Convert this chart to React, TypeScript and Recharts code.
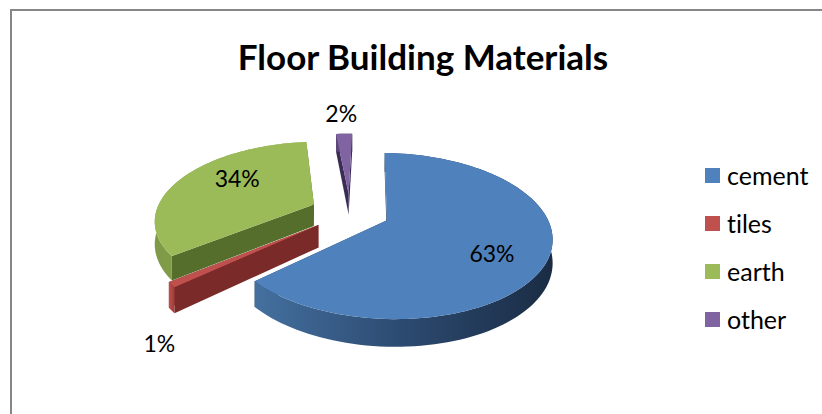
import { PieChart, Pie, Cell } from 'recharts';

const CATEGORIES = ['cement', 'tiles', 'earth', 'other'];
const VALUES = [63, 1, 34, 2];
const COLORS = ['#4f81bd', '#c0504d', '#9bbb59', '#8064a2'];
const FACE_COLORS = ['#2c4767', '#7a2a28', '#566e2b', '#3b2c56'];
const WALL_STOPS = [
  ['#44709f', '#2c4a70', '#1a2c44'],
  ['#c0504d', '#b04643', '#9c3d3a'],
  ['#7f9a47', '#8aa64e', '#9bbb59'],
  ['#5f4a7e', '#4b3a66', '#3b2c56'],
];

const data = CATEGORIES.map((name, i) => ({ name, value: VALUES[i] }));

// tilt and perspective of the fake 3d disc
const EXPLODE = 0.253;
const SQUASH = 77 / 158;
const PERSPECTIVE = 0.185;
const DEPTH = 22;
const FIRST_ANGLE = 88.5;
// where each percent label goes, radius factor + pixel nudge
const LABEL_RADIUS = [0.6, 1.25, 0.6, 1.25];
const LABEL_NUDGE = [[11, 11], [31, 41], [4, -10], [-2, -8]];

const FONT = 'Lato, sans-serif';

function project(u: number, v: number, cx: number, cy: number, r: number) {
  const s = 1 / (1 - PERSPECTIVE * v);
  return { x: cx + r * u * s, y: cy + r * SQUASH * v * s, s };
}

function pointsToPath(pts: { x: number; y: number }[]) {
  return pts.map((p, i) => `${i ? 'L' : 'M'}${p.x.toFixed(2)} ${p.y.toFixed(2)}`).join(' ') + ' Z';
}

function Slice3D(props: any) {
  const { cx, cy, outerRadius, startAngle, endAngle, name } = props;
  const idx = CATEGORIES.indexOf(name);
  const a0 = 90 - startAngle;
  const a1 = 90 - endAngle;
  const mid = (((a0 + a1) / 2) * Math.PI) / 180;
  const ou = Math.sin(mid) * EXPLODE;
  const ov = -Math.cos(mid) * EXPLODE;

  const arc: { x: number; y: number; s: number }[] = [];
  const steps = Math.max(4, Math.ceil(Math.abs(a1 - a0) / 2));
  for (let i = 0; i <= steps; i++) {
    const t = ((a0 + ((a1 - a0) * i) / steps) * Math.PI) / 180;
    arc.push(project(ou + Math.sin(t), ov - Math.cos(t), cx, cy, outerRadius));
  }
  const apex = project(ou, ov, cx, cy, outerRadius);
  const down = (p: { x: number; y: number; s: number }) => ({ x: p.x, y: p.y + DEPTH * p.s });

  const top = pointsToPath([apex, ...arc]);
  const startWall = pointsToPath([apex, arc[0], down(arc[0]), down(apex)]);
  const endWall = pointsToPath([apex, arc[steps], down(arc[steps]), down(apex)]);
  const outerWall = pointsToPath([...arc, ...arc.map(down).reverse()]);
  const gradId = `wall-${idx}`;

  return (
    <g>
      <defs>
        <linearGradient id={gradId} x1="0" y1="0" x2="1" y2="0">
          <stop offset="0%" stopColor={WALL_STOPS[idx][0]} />
          <stop offset="50%" stopColor={WALL_STOPS[idx][1]} />
          <stop offset="100%" stopColor={WALL_STOPS[idx][2]} />
        </linearGradient>
      </defs>
      <path d={endWall} fill={FACE_COLORS[idx]} />
      <path d={startWall} fill={FACE_COLORS[idx]} />
      <path d={outerWall} fill={`url(#${gradId})`} />
      <path d={top} fill={COLORS[idx]} />
    </g>
  );
}

function renderLabel(props: any) {
  const { cx, cy, outerRadius, name, percent, midAngle } = props;
  const idx = CATEGORIES.indexOf(name);
  const t = ((90 - midAngle) * Math.PI) / 180;
  const r = LABEL_RADIUS[idx];
  const p = project(
    Math.sin(t) * (EXPLODE + r),
    -Math.cos(t) * (EXPLODE + r),
    cx,
    cy,
    outerRadius
  );
  return (
    <text
      x={p.x + LABEL_NUDGE[idx][0]}
      y={p.y + LABEL_NUDGE[idx][1]}
      textAnchor="middle"
      dominantBaseline="central"
      fontFamily={FONT}
      fontSize={23}
      fill="#000"
    >
      {`${Math.round(percent * 100)}%`}
    </text>
  );
}

function LegendBox() {
  return (
    <div style={{ position: 'absolute', left: 705, top: 151 }}>
      {CATEGORIES.map((name, i) => (
        <div key={name} style={{ display: 'flex', alignItems: 'center', height: 48 }}>
          <div style={{ width: 15, height: 15, background: COLORS[i], marginRight: 7 }} />
          <span style={{ fontFamily: FONT, fontSize: 25, color: '#000', fontVariantLigatures: 'none' }}>{name}</span>
        </div>
      ))}
    </div>
  );
}

export default function App() {
  return (
    <div style={{ position: 'absolute', left: 0, top: 0, width: 822, height: 414, background: '#fff', overflow: 'hidden' }}>
      <div style={{ position: 'absolute', left: 10, top: 9, right: 0, bottom: 0, borderTop: '2px solid #868686', borderLeft: '2px solid #868686' }} />
      <div style={{ position: 'absolute', left: 0, top: 0 }}>
        <PieChart width={822} height={414} margin={{ top: 0, right: 0, bottom: 0, left: 0 }}>
          <text x={423} y={56} textAnchor="middle" dominantBaseline="central" fontFamily={FONT} fontWeight={700} fontSize={35} fill="#000">
            Floor Building Materials
          </text>
          <Pie
            data={data}
            dataKey="value"
            nameKey="name"
            cx={350}
            cy={212}
            innerRadius={0}
            outerRadius={158}
            startAngle={FIRST_ANGLE}
            endAngle={FIRST_ANGLE - 360}
            stroke="none"
            shape={Slice3D}
            label={renderLabel}
            labelLine={false}
            isAnimationActive={false}
          >
            {data.map((entry, index) => (
              <Cell key={`cell-${index}`} fill={COLORS[index]} />
            ))}
          </Pie>
        </PieChart>
      </div>
      <LegendBox />
    </div>
  );
}
